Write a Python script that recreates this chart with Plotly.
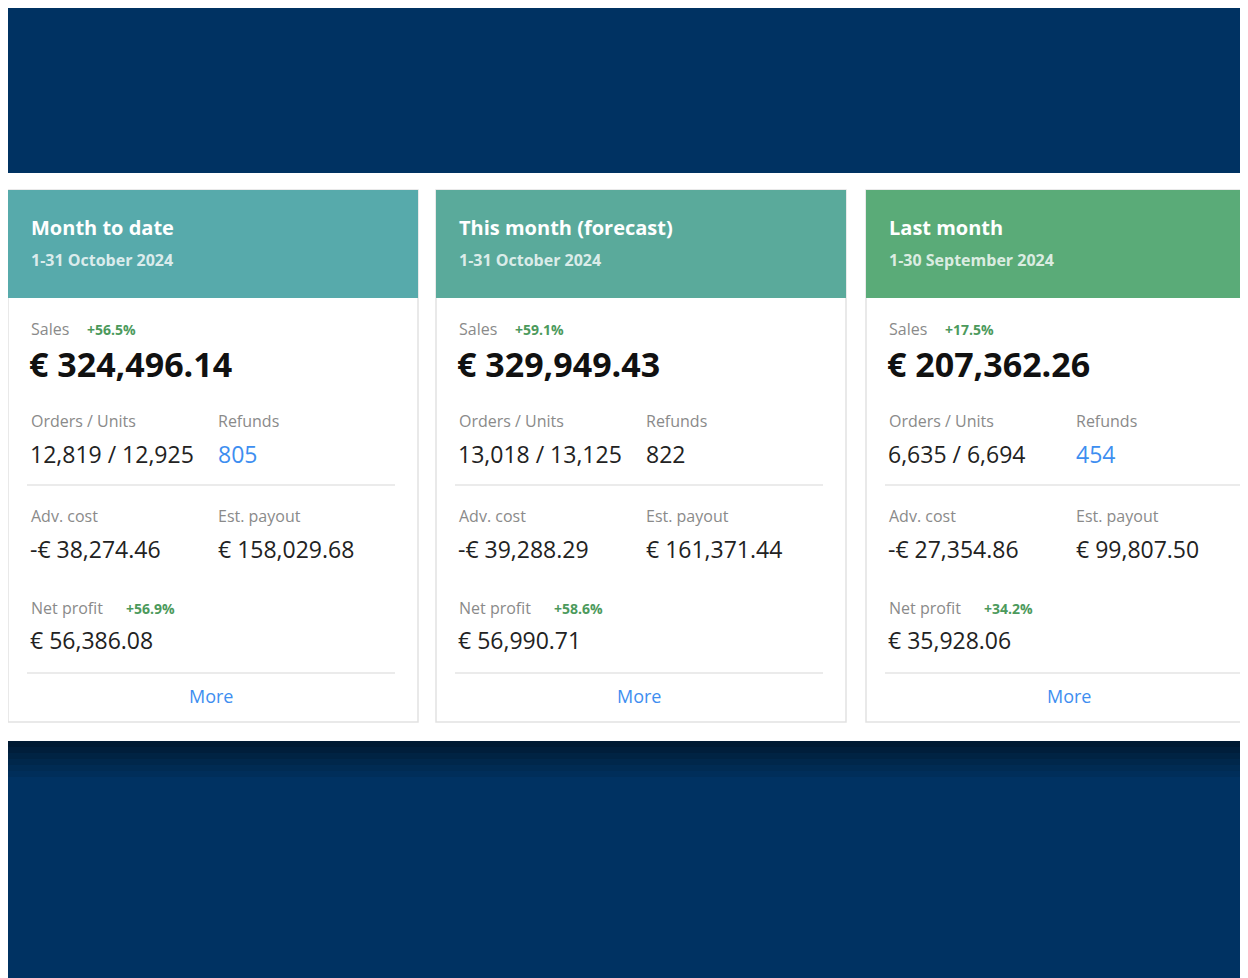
import plotly.graph_objects as go

titles = ["Month to date", "This month (forecast)", "Last month"]
periods = ["1-31 October 2024", "1-31 October 2024", "1-30 September 2024"]
sales = ["€ 324,496.14", "€ 329,949.43", "€ 207,362.26"]
sales_pct = ["+56.5%", "+59.1%", "+17.5%"]
orders_units = ["12,819 / 12,925", "13,018 / 13,125", "6,635 / 6,694"]
refunds = ["805", "822", "454"]
refunds_link = [True, False, True]
adv_cost = ["-€ 38,274.46", "-€ 39,288.29", "-€ 27,354.86"]
est_payout = ["€ 158,029.68", "€ 161,371.44", "€ 99,807.50"]
net_profit = ["€ 56,386.08", "€ 56,990.71", "€ 35,928.06"]
net_pct = ["+56.9%", "+58.6%", "+34.2%"]
header_colors = ["#57aaab", "#5aaa9b", "#5aab78"]

W, H = 1248, 978
FONT = "Open Sans"
GRAY = "#8a8a8a"
DARK = "#222222"
GREEN = "#4c9a5c"
BLUE = "#3d8ef0"

fig = go.Figure()
shapes = []
ann = []

shapes.append(dict(type="rect", x0=0, x1=W, y0=0, y1=H, fillcolor="#003262", line_width=0, layer="below"))
shapes.append(dict(type="rect", x0=0, x1=W, y0=165, y1=733, fillcolor="white", line_width=0, layer="below"))
# shadow under band
for i, c in enumerate(["#001a33", "#001e3b", "#002343", "#00274b", "#002b53", "#002e5a"]):
    shapes.append(dict(type="rect", x0=0, x1=W, y0=733 + i * 6, y1=739 + i * 6, fillcolor=c, line_width=0, layer="below"))

card_x = [0, 428, 858]
card_w = 410

def t(x, y, text, size, color, bold=False, anchor="left"):
    ann.append(dict(x=x, y=y, xref="x", yref="y", text=f"<b>{text}</b>" if bold else text,
                    showarrow=False, xanchor=anchor, yanchor="middle",
                    font=dict(family=FONT, size=size, color=color)))

for i in range(3):
    x0 = card_x[i]
    x1 = min(x0 + card_w, W + 20)
    shapes.append(dict(type="rect", x0=x0, x1=x1, y0=182, y1=714, fillcolor="white",
                       line=dict(color="#e2e2e2", width=1.5)))
    shapes.append(dict(type="rect", x0=x0, x1=x1, y0=182, y1=290, fillcolor=header_colors[i], line_width=0))
    lx = x0 + 21
    t(lx, 219, titles[i], 20, "white", bold=True)
    t(lx, 252, periods[i], 16, "rgba(255,255,255,0.8)", bold=True)
    t(lx, 321, "Sales", 16, GRAY)
    t(lx + 56, 321, sales_pct[i], 14, GREEN, bold=True)
    t(lx - 2, 356, sales[i], 34, "#111111", bold=True)
    t(lx, 413, "Orders / Units", 16, GRAY)
    t(lx + 187, 413, "Refunds", 16, GRAY)
    t(lx - 1, 446, orders_units[i], 23, DARK)
    t(lx + 187, 446, refunds[i], 23, BLUE if refunds_link[i] else DARK)
    shapes.append(dict(type="line", x0=x0 + 19, x1=x0 + 387, y0=477, y1=477, line=dict(color="#e5e5e5", width=1.5)))
    t(lx, 508, "Adv. cost", 16, GRAY)
    t(lx + 187, 508, "Est. payout", 16, GRAY)
    t(lx - 1, 541, adv_cost[i], 23, DARK)
    t(lx + 187, 541, est_payout[i], 23, DARK)
    t(lx, 600, "Net profit", 16, GRAY)
    t(lx + 95, 600, net_pct[i], 14, GREEN, bold=True)
    t(lx - 1, 632, net_profit[i], 23, DARK)
    shapes.append(dict(type="line", x0=x0 + 19, x1=x0 + 387, y0=665, y1=665, line=dict(color="#e5e5e5", width=1.5)))
    t(x0 + 203, 688, "More", 18, BLUE, bold=False, anchor="center")

fig.update_layout(width=W, height=H, margin=dict(l=0, r=0, t=0, b=0),
                  paper_bgcolor="#003262", plot_bgcolor="#003262",
                  xaxis=dict(range=[0, W], visible=False, fixedrange=True),
                  yaxis=dict(range=[H, 0], visible=False, fixedrange=True),
                  shapes=shapes, annotations=ann, showlegend=False)
fig.write_html("out.html")
